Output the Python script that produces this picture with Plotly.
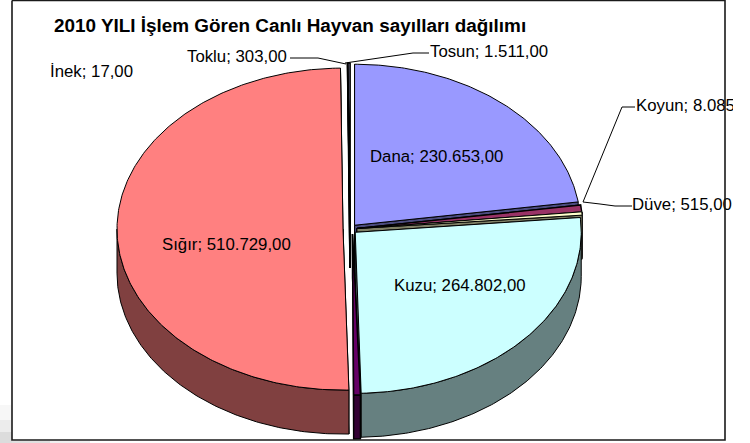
import math
import plotly.graph_objects as go

categories = ["Dana", "Koyun", "Düve", "Kuzu", "İnek", "Sığır", "Toklu", "Tosun"]
values = [230653, 8085, 515, 264802, 17, 510729, 303, 1511]
value_labels = ["230.653,00", "8.085,00", "515,00", "264.802,00", "17,00", "510.729,00", "303,00", "1.511,00"]
top_colors = ["#9999FF", "#993366", "#FFFFCC", "#CCFFFF", "#660066", "#FF8080", "#0066CC", "#CCCCFF"]
side_colors = ["#4C4C80", "#4C1933", "#808066", "#668080", "#330033", "#804040", "#003366", "#666680"]

CX, CY, RX, RY, DEPTH, EXPLODE = 350, 229, 226, 161, 44, 7
W, H = 750, 443

total = sum(values)
spans = []
a = 0.0
for v in values:
    b = a + v / total * 360
    spans.append((a, b))
    a = b


def pt(theta, ox, oy, r=1.0, dy=0.0):
    t = math.radians(theta)
    return ox + RX * r * math.sin(t), oy - RY * r * math.cos(t) + dy


def arc(a, b, ox, oy, dy=0.0):
    n = max(2, int(abs(b - a) * 1.5) + 1)
    return [pt(a + (b - a) * i / (n - 1), ox, oy, dy=dy) for i in range(n)]


def poly(fig, pts, fill, lw=1.0):
    xs = [p[0] for p in pts] + [pts[0][0]]
    ys = [p[1] for p in pts] + [pts[0][1]]
    fig.add_trace(go.Scatter(x=xs, y=ys, mode="lines", fill="toself", fillcolor=fill,
                             line=dict(color="#000000", width=lw), hoverinfo="skip", showlegend=False))


fig = go.Figure()

order = sorted(range(len(values)), key=lambda i: -math.cos(math.radians(sum(spans[i]) / 2)))
for i in order:
    a, b = spans[i]
    mid = (a + b) / 2
    m = math.radians(mid)
    ox = CX + EXPLODE * math.sin(m)
    oy = CY - EXPLODE * RY / RX * math.cos(m)
    lw = 1.4 if b - a < 3 else 1.0
    # hair-thin slices still show as a visible sliver
    if b - a < 0.05:
        a, b = a - 0.5, b + 1.2
        ox += 2.3
    elif b - a < 0.25 and 60 < mid < 120:
        a, b = a - 0.5, b + 0.5
        lw = 1.0
    # radial walls
    for th in (a, b):
        r = pt(th, ox, oy)
        poly(fig, [(ox, oy), r, (r[0], r[1] + DEPTH), (ox, oy + DEPTH)], side_colors[i], lw)
    # rim side
    s, e = max(a, 90), min(b, 270)
    if e > s:
        top = arc(s, e, ox, oy)
        bot = arc(e, s, ox, oy, dy=DEPTH)
        poly(fig, top + bot, side_colors[i], lw)
    # top face
    poly(fig, [(ox, oy)] + arc(a, b, ox, oy), top_colors[i], lw)

# leader lines
leader_x = [[290, 318, 346], [429, 413, 345], [635, 622, 583], [632, 615, 600, 583]]
leader_y = [[58, 58, 64], [53, 53, 63], [107, 107, 202], [206, 206, 204, 202]]
for lx, ly in zip(leader_x, leader_y):
    fig.add_trace(go.Scatter(x=lx, y=ly, mode="lines", line=dict(color="#000000", width=1),
                             hoverinfo="skip", showlegend=False))

label_x = [370, 636, 632, 394, 50, 162, 187, 430]
label_y = [158, 107, 206, 287, 73, 246, 58, 53]
texts = [f"{c}; {t}" for c, t in zip(categories, value_labels)]
fig.add_trace(go.Scatter(x=label_x, y=label_y, mode="text", text=texts, textposition="middle right",
                         textfont=dict(family="Liberation Sans, Arial", size=16.8, color="#000000"),
                         hoverinfo="skip", showlegend=False))
fig.add_trace(go.Scatter(x=[54], y=[27], mode="text", text=["2010 YILI İşlem Gören Canlı Hayvan sayılları dağılımı"],
                         textposition="middle right",
                         textfont=dict(family="Liberation Sans, Arial", size=18.9, color="#000000", weight="bold"),
                         hoverinfo="skip", showlegend=False))

# chart frame
fig.add_trace(go.Scatter(x=[12, 725, 725, 12, 12], y=[0.5, 0.5, 440, 440, 0.5], mode="lines",
                         line=dict(color="#1A1A1A", width=1.6), hoverinfo="skip", showlegend=False))

shadow = [(0, 12, 405, 420, "#F7F7F7"), (0, 12, 420, 432, "#ECECEC"), (0, 12, 432, 443, "#DCDCDC"),
          (12, 50, 441, 443, "#E0E0E0"), (50, 90, 441, 443, "#F0F0F0")]
shapes = [dict(type="rect", xref="x", yref="y", x0=x0, x1=x1, y0=y0, y1=y1, fillcolor=c,
               line=dict(width=0), layer="below") for x0, x1, y0, y1, c in shadow]
shapes.append(dict(type="rect", xref="x", yref="y", x0=733, x1=W, y0=0, y1=H, fillcolor="#FFFFFF",
                   line=dict(width=0), layer="above"))

fig.update_layout(
    width=W, height=H, margin=dict(l=0, r=0, t=0, b=0), autosize=False,
    paper_bgcolor="#FFFFFF", plot_bgcolor="#FFFFFF", showlegend=False, shapes=shapes,
    xaxis=dict(range=[0, W], visible=False, fixedrange=True),
    yaxis=dict(range=[H, 0], visible=False, fixedrange=True),
)
fig.write_html("out.html", config={"displayModeBar": False},
               post_script="document.body.style.margin='0';document.body.style.overflow='hidden';")
